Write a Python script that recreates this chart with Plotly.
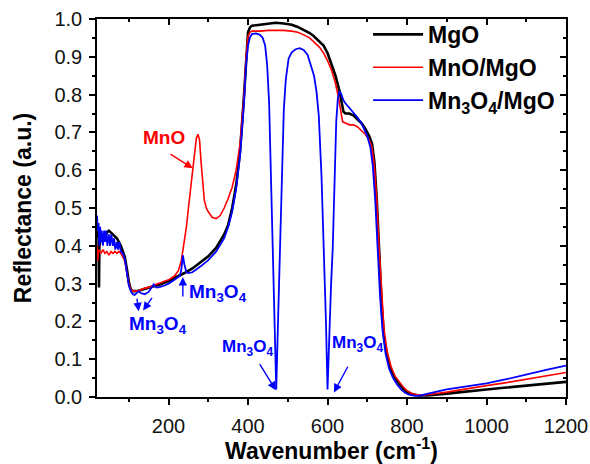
import plotly.graph_objects as go

# ---------------- data ----------------
mgo_x = [20, 24, 25, 26, 30, 35, 40, 45, 50, 55, 60, 65, 70, 75, 80, 85, 90, 95, 100, 105, 110, 120, 130, 140,
         150, 160, 180, 200, 220, 240, 260, 280, 300, 320, 340, 350, 360, 370, 380, 390, 395, 400, 405, 410,
         430, 450, 470, 490, 510, 525, 540, 555, 565, 580, 590, 600, 610, 620, 630, 635, 640, 645, 655, 665,
         675, 685, 695, 705, 712, 718, 724, 730, 736, 742, 750, 760, 770, 780, 790, 800, 815, 830, 850, 900,
         950, 1000, 1050, 1100, 1150, 1200]
mgo_y = [0.44, 0.42, 0.29, 0.40, 0.42, 0.43, 0.42, 0.435, 0.44, 0.435, 0.43, 0.425, 0.42, 0.41, 0.40, 0.385,
         0.37, 0.34, 0.305, 0.285, 0.28, 0.28, 0.283, 0.285, 0.288, 0.292, 0.298, 0.307, 0.317, 0.328, 0.34,
         0.355, 0.372, 0.395, 0.43, 0.455, 0.50, 0.56, 0.65, 0.80, 0.90, 0.965, 0.978, 0.982, 0.985, 0.988,
         0.99, 0.988, 0.985, 0.979, 0.972, 0.963, 0.955, 0.94, 0.93, 0.91, 0.88, 0.85, 0.81, 0.78, 0.755,
         0.75, 0.75, 0.745, 0.735, 0.725, 0.71, 0.69, 0.67, 0.62, 0.52, 0.38, 0.25, 0.16, 0.11, 0.07, 0.05,
         0.035, 0.022, 0.013, 0.007, 0.004, 0.004, 0.009, 0.015, 0.02, 0.025, 0.03, 0.035, 0.04]

mno_x = [20, 22, 24, 30, 35, 40, 45, 50, 55, 60, 65, 70, 75, 80, 85, 90, 95, 100, 105, 110, 120, 130, 140,
         150, 160, 180, 200, 215, 225, 232, 240, 245, 250, 255, 260, 265, 270, 274, 278, 282, 286, 290, 295,
         300, 310, 320, 330, 340, 350, 360, 370, 380, 390, 395, 400, 405, 410, 430, 450, 470, 490, 510, 525,
         540, 555, 565, 580, 590, 600, 610, 620, 628, 633, 638, 645, 655, 665, 675, 685, 695, 705, 712, 718,
         724, 730, 736, 742, 750, 760, 770, 780, 790, 800, 815, 830, 850, 900, 950, 1000, 1050, 1100, 1150, 1200]
mno_y = [0.40, 0.36, 0.39, 0.38, 0.39, 0.38, 0.385, 0.375, 0.385, 0.38, 0.385, 0.38, 0.385, 0.38, 0.37, 0.36,
         0.33, 0.30, 0.285, 0.28, 0.28, 0.285, 0.288, 0.29, 0.295, 0.302, 0.31, 0.32, 0.335, 0.36, 0.41, 0.45,
         0.50, 0.55, 0.60, 0.65, 0.685, 0.695, 0.68, 0.62, 0.56, 0.52, 0.50, 0.49, 0.475, 0.472, 0.48, 0.50,
         0.525, 0.555, 0.60, 0.67, 0.80, 0.90, 0.955, 0.965, 0.968, 0.968, 0.97, 0.97, 0.97, 0.968, 0.965,
         0.958, 0.95, 0.94, 0.925, 0.91, 0.89, 0.865, 0.83, 0.79, 0.755, 0.728, 0.725, 0.72, 0.72, 0.715,
         0.705, 0.695, 0.68, 0.66, 0.61, 0.52, 0.39, 0.27, 0.18, 0.12, 0.08, 0.055, 0.04, 0.027, 0.017, 0.008,
         0.005, 0.006, 0.013, 0.022, 0.03, 0.038, 0.047, 0.056, 0.065]

mn3o4_x = [20, 22, 24, 26, 28, 30, 32, 35, 38, 40, 43, 46, 50, 53, 56, 60, 63, 66, 70, 73, 76, 80, 85, 90, 95,
           100, 105, 110, 115, 120, 125, 130, 140, 150, 158, 163, 168, 175, 190, 200, 215, 228, 232, 236, 240,
           245, 250, 260, 280, 300, 320, 340, 350, 360, 370, 380, 390, 395, 400, 405, 410, 420, 430, 437, 443,
           448, 453, 458, 462, 466, 471, 476, 480, 485, 490, 495, 502, 510, 520, 530, 540, 550, 558, 566, 572,
           578, 585, 591, 596, 600, 605, 609, 613, 618, 622, 626, 630, 635, 640, 645, 655, 665, 675, 685, 692,
           700, 708, 714, 720, 726, 732, 738, 746, 755, 765, 775, 785, 795, 805, 820, 835, 850, 900, 950, 1000,
           1050, 1100, 1150, 1200]
mn3o4_y = [0.48, 0.44, 0.46, 0.40, 0.45, 0.41, 0.44, 0.40, 0.44, 0.41, 0.44, 0.40, 0.43, 0.40, 0.43, 0.40, 0.42,
           0.39, 0.41, 0.39, 0.41, 0.385, 0.38, 0.365, 0.33, 0.295, 0.28, 0.272, 0.27, 0.275, 0.28, 0.275,
           0.272, 0.278, 0.29, 0.298, 0.29, 0.29, 0.295, 0.30, 0.31, 0.32, 0.335, 0.375, 0.35, 0.33, 0.328,
           0.33, 0.345, 0.362, 0.385, 0.42, 0.45, 0.49, 0.55, 0.64, 0.78, 0.88, 0.93, 0.952, 0.96, 0.962,
           0.958, 0.95, 0.93, 0.88, 0.78, 0.58, 0.39, 0.22, 0.02, 0.22, 0.39, 0.60, 0.76, 0.84, 0.895, 0.912,
           0.92, 0.923, 0.918, 0.905, 0.88, 0.85, 0.81, 0.745, 0.58, 0.39, 0.20, 0.02, 0.20, 0.30, 0.39, 0.60,
           0.73, 0.79, 0.81, 0.80, 0.785, 0.777, 0.765, 0.754, 0.74, 0.725, 0.71, 0.69, 0.66, 0.61, 0.52, 0.39,
           0.27, 0.18, 0.115, 0.075, 0.05, 0.033, 0.02, 0.011, 0.006, 0.003, 0.004, 0.008, 0.02, 0.028, 0.036,
           0.047, 0.06, 0.072, 0.083]

series_names = ["MgO", "MnO/MgO", "Mn<sub>3</sub>O<sub>4</sub>/MgO"]
series_colors = ["#000000", "#ff0000", "#0000ff"]

x_ticks = [200, 400, 600, 800, 1000, 1200]
y_ticks = [0.0, 0.1, 0.2, 0.3, 0.4, 0.5, 0.6, 0.7, 0.8, 0.9, 1.0]
x_range = [20, 1200]
y_range = [0.0, 1.0]

FONT = "Liberation Sans, Arial, sans-serif"

fig = go.Figure()
for xs, ys, name, col, w in [(mgo_x, mgo_y, series_names[0], series_colors[0], 2.6),
                             (mno_x, mno_y, series_names[1], series_colors[1], 1.6),
                             (mn3o4_x, mn3o4_y, series_names[2], series_colors[2], 1.8)]:
    fig.add_trace(go.Scatter(x=xs, y=ys, mode="lines", name=name,
                             line=dict(color=col, width=w)))

# invisible trace for the mirrored top/right axes
fig.add_trace(go.Scatter(x=[], y=[], xaxis="x2", yaxis="y2", showlegend=False))

axis_common = dict(showgrid=False, zeroline=False, linecolor="black", linewidth=1.5,
                   tickcolor="black", tickwidth=1.5, automargin=False,
                   tickfont=dict(family=FONT, size=20, color="#111"))

fig.update_layout(
    width=590, height=464,
    margin=dict(l=97, r=24, t=19, b=67, autoexpand=False),
    plot_bgcolor="white", paper_bgcolor="white",
    showlegend=True,
    legend=dict(x=0.578, y=1.016, xanchor="left", yanchor="top",
                font=dict(family=FONT, size=23, color="black", weight="bold"),
                bgcolor="rgba(0,0,0,0)", tracegroupgap=0, itemwidth=50),
    xaxis=dict(range=x_range, tickvals=x_ticks, ticks="outside", ticklen=6, mirror=True, showline=True,
               ticklabelstandoff=4,
               minor=dict(dtick=100, tick0=0, ticks="outside", ticklen=3, tickcolor="black", tickwidth=1.5),
               title=dict(text="<b>Wavenumber (cm<sup>-1</sup>)</b>", font=dict(family=FONT, size=23, color="black"),
                          standoff=11),
               **axis_common),
    yaxis=dict(range=y_range, tickvals=y_ticks, tickformat=".1f", ticks="outside", ticklen=6, mirror=True,
               showline=True, ticklabelstandoff=3,
               minor=dict(dtick=0.05, tick0=0, ticks="outside", ticklen=3, tickcolor="black", tickwidth=1.5),
               title=dict(text="<b>Reflectance (a.u.)</b>", font=dict(family=FONT, size=23, color="black"),
                          standoff=16),
               **axis_common),
    xaxis2=dict(range=x_range, overlaying="x", side="top", tickvals=x_ticks, ticks="inside", ticklen=6,
                showticklabels=False, showline=False, showgrid=False, zeroline=False, automargin=False,
                tickcolor="black", tickwidth=1.5,
                minor=dict(dtick=100, tick0=0, ticks="inside", ticklen=3, tickcolor="black", tickwidth=1.5)),
    yaxis2=dict(range=y_range, overlaying="y", side="right", tickvals=y_ticks, ticks="inside", ticklen=6,
                showticklabels=False, showline=False, showgrid=False, zeroline=False, automargin=False,
                tickcolor="black", tickwidth=1.5,
                minor=dict(dtick=0.05, tick0=0, ticks="inside", ticklen=3, tickcolor="black", tickwidth=1.5)),
)

# ---------------- annotations ----------------
MN3O4 = "Mn<sub>3</sub>O<sub>4</sub>"
labels = [
    ("MnO", 188, 0.687, "#ff0000", 19),
    (MN3O4, 173, 0.190, "#0000ff", 19),
    (MN3O4, 324, 0.275, "#0000ff", 19),
    (MN3O4, 399, 0.130, "#0000ff", 17),
    (MN3O4, 676, 0.140, "#0000ff", 17),
]
for txt, x, y, col, sz in labels:
    fig.add_annotation(x=x, y=y, text=f"<b>{txt}</b>", showarrow=False,
                       font=dict(family=FONT, size=sz, color=col))

arrows = [  # (tail x, tail y, head x, head y, color)
    (201, 0.645, 261, 0.605, "#ff0000"),
    (120, 0.264, 125, 0.227, "#0000ff"),
    (161, 0.266, 136, 0.229, "#0000ff"),
    (236, 0.262, 236, 0.317, "#0000ff"),
    (427, 0.091, 470, 0.018, "#0000ff"),
    (653, 0.084, 616, 0.012, "#0000ff"),
]
for tx, ty, hx, hy, col in arrows:
    fig.add_annotation(x=hx, y=hy, ax=tx, ay=ty, axref="x", ayref="y", xref="x", yref="y",
                       text="", showarrow=True, arrowhead=2, arrowsize=1.2, arrowwidth=1.4,
                       arrowcolor=col, standoff=0, startstandoff=0)

# remove the default 8px page margin so the 590x464 figure fills the window exactly
fig.write_html("out.html", config={"displayModeBar": False},
               post_script="document.body.style.margin='0';")
